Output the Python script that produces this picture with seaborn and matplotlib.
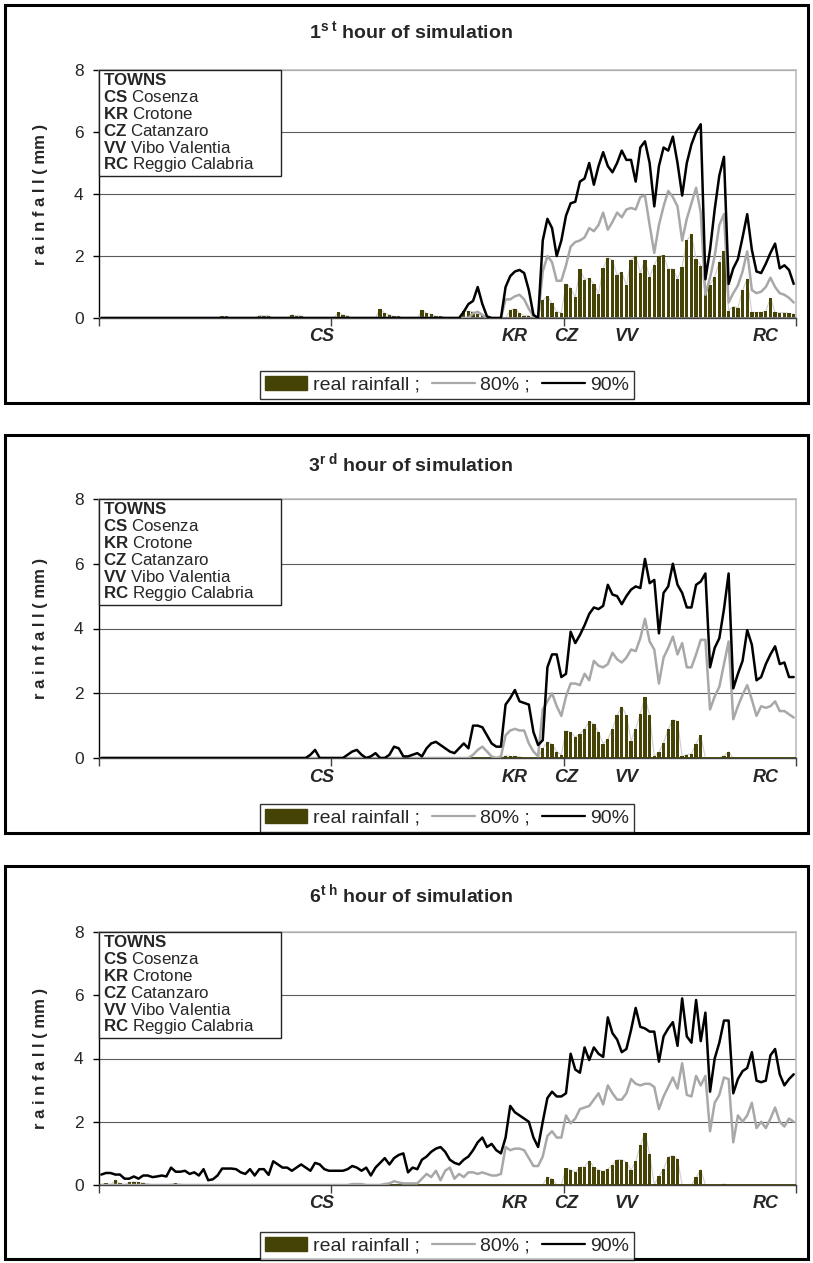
import matplotlib
matplotlib.use("Agg")
import matplotlib.pyplot as plt
import pandas as pd
import seaborn as sns
from matplotlib.patches import Rectangle, Patch
from matplotlib.lines import Line2D
from matplotlib.transforms import offset_copy

# ---------------- data ----------------
STATION = list(range(150))

P1_REAL = [
    0, 0, 0, 0, 0, 0, 0, 0, 0, 0,
    0, 0, 0, 0, 0, 0, 0, 0, 0, 0,
    0, 0, 0, 0, 0, 0, 0.05, 0.05, 0, 0,
    0, 0, 0, 0, 0.08, 0.07, 0.07, 0, 0, 0,
    0, 0.1, 0.07, 0.07, 0, 0, 0, 0, 0, 0,
    0, 0.18, 0.1, 0.07, 0, 0, 0, 0, 0, 0,
    0.3, 0.15, 0.1, 0.05, 0.05, 0, 0, 0, 0, 0.25,
    0.15, 0.12, 0.05, 0.05, 0.03, 0, 0, 0, 0.22, 0.22,
    0.2, 0.12, 0.08, 0, 0, 0, 0, 0, 0.25, 0.3,
    0.15, 0.08, 0.08, 0, 0, 0.58, 0.7, 0.47, 0.2, 0.17,
    1.1, 0.96, 0.67, 1.58, 1.24, 1.28, 1.1, 0.78, 1.6, 1.94,
    1.86, 1.39, 1.48, 1.05, 1.88, 2.0, 1.45, 1.86, 1.32, 1.72,
    2.0, 2.02, 1.58, 1.58, 1.26, 1.66, 2.5, 2.7, 1.9, 1.69,
    0.78, 1.08, 1.33, 1.8, 2.15, 0.24, 0.37, 0.33, 0.9, 1.26,
    0.18, 0.18, 0.18, 0.22, 0.65, 0.18, 0.17, 0.17, 0.15, 0.12,
]
P1_80 = [
    0, 0, 0, 0, 0, 0, 0, 0, 0, 0,
    0, 0, 0, 0, 0, 0, 0, 0, 0, 0,
    0, 0, 0, 0, 0, 0, 0, 0, 0, 0,
    0, 0, 0, 0, 0, 0, 0, 0, 0, 0,
    0, 0, 0, 0, 0, 0, 0, 0, 0, 0,
    0, 0, 0, 0, 0, 0, 0, 0, 0, 0,
    0, 0, 0, 0, 0, 0, 0, 0, 0, 0,
    0, 0, 0, 0, 0, 0, 0, 0, 0, 0,
    0.15, 0.2, 0.1, 0, 0, 0, 0, 0.6, 0.6, 0.7,
    0.75, 0.6, 0.3, 0.05, 0, 1.5, 2.0, 1.8, 1.2, 1.2,
    1.7, 2.3, 2.45, 2.5, 2.6, 2.9, 2.8, 3.0, 3.4, 2.85,
    3.1, 3.4, 3.25, 3.5, 3.55, 3.5, 3.9, 3.95, 3.0, 2.1,
    3.0, 3.6, 4.1, 3.9, 3.6, 2.5, 3.2, 3.7, 4.2, 3.4,
    0.75, 1.3, 2.0, 3.0, 3.35, 0.5, 0.8, 1.05, 1.5, 2.15,
    0.9, 0.8, 0.85, 1.0, 1.3, 1.0, 0.8, 0.75, 0.65, 0.5,
]
P1_90 = [
    0, 0, 0, 0, 0, 0, 0, 0, 0, 0,
    0, 0, 0, 0, 0, 0, 0, 0, 0, 0,
    0, 0, 0, 0, 0, 0, 0, 0, 0, 0,
    0, 0, 0, 0, 0, 0, 0, 0, 0, 0,
    0, 0, 0, 0, 0, 0, 0, 0, 0, 0,
    0, 0, 0, 0, 0, 0, 0, 0, 0, 0,
    0, 0, 0, 0, 0, 0, 0, 0, 0, 0,
    0, 0, 0, 0, 0, 0, 0, 0, 0.2, 0.45,
    0.55, 1.0, 0.45, 0.05, 0, 0, 0, 1.0, 1.35, 1.5,
    1.55, 1.45, 0.9, 0.1, 0, 2.5, 3.2, 2.9, 2.0, 2.5,
    3.3, 3.7, 3.75, 4.4, 4.5, 5.0, 4.3, 4.9, 5.35, 4.9,
    4.7, 5.0, 5.4, 5.1, 5.1, 4.4, 5.5, 5.7, 5.0, 3.6,
    4.9, 5.5, 5.4, 5.85, 5.0, 3.95, 5.0, 5.6, 6.0, 6.25,
    1.25, 2.2, 3.5, 4.6, 5.2, 1.1, 1.6, 1.9, 2.6, 3.35,
    2.2, 1.5, 1.45, 1.75, 2.1, 2.4, 1.6, 1.7, 1.55, 1.1,
]

P2_REAL = [
    0, 0, 0, 0, 0, 0, 0, 0, 0, 0,
    0, 0, 0, 0, 0, 0, 0, 0, 0, 0,
    0, 0, 0, 0, 0, 0, 0, 0, 0, 0,
    0, 0, 0, 0, 0, 0, 0, 0, 0, 0,
    0, 0, 0, 0, 0, 0, 0, 0, 0, 0,
    0, 0, 0, 0, 0, 0, 0, 0, 0, 0,
    0, 0, 0, 0, 0, 0, 0, 0, 0, 0,
    0, 0, 0, 0, 0, 0, 0, 0, 0, 0,
    0, 0, 0, 0, 0, 0, 0, 0.07, 0.05, 0.05,
    0.04, 0, 0, 0, 0, 0.3, 0.5, 0.42, 0.2, 0.1,
    0.84, 0.8, 0.65, 0.74, 0.89, 1.13, 1.05, 0.8, 0.44, 0.58,
    0.9, 1.32, 1.58, 1.32, 0.53, 0.9, 1.37, 1.87, 1.32, 0.05,
    0.18, 0.47, 0.89, 1.18, 1.13, 0.05, 0.1, 0.13, 0.44, 0.7,
    0, 0, 0, 0, 0.07, 0.19, 0, 0, 0, 0,
    0, 0, 0, 0, 0, 0, 0, 0, 0, 0,
]
P2_80 = [
    0, 0, 0, 0, 0, 0, 0, 0, 0, 0,
    0, 0, 0, 0, 0, 0, 0, 0, 0, 0,
    0, 0, 0, 0, 0, 0, 0, 0, 0, 0,
    0, 0, 0, 0, 0, 0, 0, 0, 0, 0,
    0, 0, 0, 0, 0, 0, 0, 0, 0, 0,
    0, 0, 0, 0, 0, 0, 0, 0, 0, 0,
    0, 0, 0, 0, 0, 0, 0, 0, 0, 0,
    0, 0, 0, 0, 0, 0, 0, 0, 0, 0,
    0.1, 0.25, 0.35, 0.2, 0.05, 0, 0.05, 0.7, 0.85, 0.9,
    0.85, 0.85, 0.45, 0.2, 0.05, 1.5, 1.75, 2.0, 1.6, 1.3,
    1.9, 2.3, 2.3, 2.25, 2.6, 2.4, 3.0, 2.85, 2.8, 2.9,
    3.25, 3.05, 2.95, 3.1, 3.35, 3.3, 3.7, 4.3, 3.6, 3.35,
    2.3, 3.1, 3.4, 3.75, 3.2, 3.55, 2.8, 2.8, 3.2, 3.65,
    3.65, 1.5, 1.9, 2.2, 2.9, 3.6, 1.2, 1.6, 1.95, 2.25,
    1.8, 1.3, 1.6, 1.55, 1.6, 1.75, 1.45, 1.45, 1.35, 1.25,
]
P2_90 = [
    0, 0, 0, 0, 0, 0, 0, 0, 0, 0,
    0, 0, 0, 0, 0, 0, 0, 0, 0, 0,
    0, 0, 0, 0, 0, 0, 0, 0, 0, 0,
    0, 0, 0, 0, 0, 0, 0, 0, 0, 0,
    0, 0, 0, 0, 0, 0.1, 0.25, 0, 0, 0,
    0, 0, 0, 0.1, 0.2, 0.25, 0.1, 0, 0.05, 0.15,
    0, 0, 0.1, 0.35, 0.3, 0.05, 0.05, 0.1, 0.15, 0.05,
    0.3, 0.45, 0.5, 0.4, 0.3, 0.2, 0.15, 0.3, 0.45, 0.3,
    1.0, 1.0, 0.95, 0.7, 0.45, 0.35, 0.35, 1.65, 1.85, 2.1,
    1.75, 1.7, 1.65, 0.8, 0.4, 0.55, 2.8, 3.2, 3.2, 2.5,
    2.6, 3.9, 3.55, 3.8, 4.1, 4.45, 4.65, 4.6, 4.7, 5.35,
    5.05, 5.0, 4.75, 5.0, 5.2, 5.3, 5.25, 6.15, 5.4, 5.5,
    3.85, 5.1, 5.3, 6.0, 5.35, 5.1, 4.65, 4.65, 5.35, 5.45,
    5.7, 2.8, 3.4, 3.7, 4.6, 5.7, 2.15, 2.6, 3.0, 3.95,
    3.5, 2.4, 2.5, 2.9, 3.2, 3.45, 2.9, 2.95, 2.5, 2.5,
]

P3_REAL = [
    0.02, 0.05, 0, 0.15, 0.05, 0, 0.08, 0.1, 0.08, 0.06,
    0.04, 0, 0, 0, 0, 0.03, 0.05, 0.03, 0, 0,
    0.02, 0, 0, 0, 0, 0, 0, 0, 0, 0,
    0, 0, 0, 0, 0, 0, 0, 0, 0, 0,
    0, 0, 0, 0, 0, 0, 0, 0, 0, 0,
    0, 0, 0, 0, 0, 0, 0, 0, 0, 0,
    0, 0, 0, 0, 0, 0, 0, 0, 0, 0,
    0, 0, 0, 0, 0, 0, 0, 0, 0, 0,
    0, 0, 0, 0, 0, 0, 0, 0, 0, 0,
    0, 0, 0, 0, 0, 0, 0.25, 0.2, 0, 0,
    0.53, 0.48, 0.4, 0.56, 0.58, 0.77, 0.56, 0.48, 0.43, 0.5,
    0.64, 0.8, 0.8, 0.72, 0.47, 0.75, 1.25, 1.66, 0.98, 0.02,
    0.27, 0.5, 0.88, 0.93, 0.82, 0, 0, 0, 0.24, 0.48,
    0, 0, 0, 0, 0.03, 0, 0, 0, 0, 0,
    0, 0, 0, 0, 0, 0, 0, 0, 0, 0,
]
P3_80 = [
    0, 0, 0, 0, 0, 0, 0, 0, 0, 0,
    0, 0, 0, 0, 0, 0, 0, 0, 0, 0,
    0, 0, 0, 0, 0, 0, 0, 0, 0, 0,
    0, 0, 0, 0, 0, 0, 0, 0, 0, 0,
    0, 0, 0, 0, 0, 0, 0, 0, 0, 0,
    0, 0, 0, 0, 0.03, 0.03, 0.03, 0, 0, 0,
    0, 0.03, 0.05, 0.12, 0.08, 0.05, 0.05, 0.05, 0.05, 0.2,
    0.35, 0.25, 0.45, 0.15, 0.45, 0.55, 0.2, 0.35, 0.25, 0.4,
    0.4, 0.35, 0.4, 0.35, 0.3, 0.3, 0.35, 1.2, 1.1, 1.15,
    1.15, 1.1, 0.85, 0.6, 0.6, 0.9, 1.55, 1.7, 1.5, 1.5,
    2.2, 1.95, 2.1, 2.4, 2.45, 2.5, 2.7, 2.9, 2.55, 3.15,
    2.9, 2.7, 2.7, 2.9, 3.35, 3.2, 3.15, 3.2, 3.2, 3.1,
    2.4, 2.8, 3.1, 3.4, 3.05, 3.85, 2.85, 2.8, 3.45, 3.15,
    3.45, 1.7, 2.6, 2.85, 3.4, 3.35, 1.35, 2.2, 2.0, 2.2,
    2.6, 1.8, 2.0, 1.8, 2.1, 2.45, 2.0, 1.85, 2.1, 2.0,
]
P3_90 = [
    0.33, 0.38, 0.38, 0.33, 0.33, 0.2, 0.2, 0.27, 0.2, 0.3,
    0.3, 0.25, 0.27, 0.3, 0.27, 0.55, 0.42, 0.42, 0.45, 0.35,
    0.4, 0.3, 0.5, 0.15, 0.18, 0.3, 0.52, 0.52, 0.52, 0.5,
    0.4, 0.35, 0.5, 0.3, 0.5, 0.5, 0.32, 0.75, 0.65, 0.55,
    0.55, 0.45, 0.55, 0.65, 0.55, 0.45, 0.7, 0.65, 0.5, 0.45,
    0.45, 0.45, 0.45, 0.5, 0.6, 0.55, 0.45, 0.55, 0.3, 0.55,
    0.7, 0.85, 0.65, 0.85, 0.95, 1.0, 0.4, 0.55, 0.5, 0.8,
    0.9, 1.05, 1.15, 1.2, 1.05, 0.8, 0.7, 0.65, 0.8, 0.9,
    1.1, 1.35, 1.5, 1.2, 1.3, 1.1, 1.0, 1.5, 2.5, 2.3,
    2.2, 2.1, 2.0, 1.5, 1.2, 2.0, 2.75, 2.95, 2.8, 2.8,
    2.9, 4.15, 3.65, 3.55, 4.35, 3.95, 4.35, 4.15, 4.05, 5.3,
    4.8, 4.6, 4.2, 4.3, 4.9, 5.6, 5.0, 4.95, 4.85, 4.85,
    3.9, 4.7, 4.95, 5.15, 4.4, 5.9, 4.7, 4.5, 5.85, 4.55,
    5.45, 2.95, 4.0, 4.5, 5.2, 5.2, 2.9, 3.35, 3.6, 3.7,
    4.2, 3.3, 3.25, 3.3, 4.1, 4.3, 3.5, 3.15, 3.35, 3.5,
]

TITLE_NUM = ["1", "3", "6"]
TITLE_SUP = ["s\\ t", "r\\ d", "t\\ h"]
TOWN_CODES = ["CS", "KR", "CZ", "VV", "RC"]
TOWN_NAMES = ["Cosenza", "Crotone", "Catanzaro", "Vibo Valentia", "Reggio Calabria"]
TOWN_POS = [47.5, 89, 100, 113, 143]
YTICKS = [0, 2, 4, 6, 8]
LEGEND_LABELS = ["real rainfall ;", "80% ;", "90%"]

# ---------------- style ----------------
sns.set_style("white")
plt.rcParams["font.family"] = ["Liberation Sans", "DejaVu Sans"]
plt.rcParams["mathtext.fontset"] = "custom"
plt.rcParams["mathtext.rm"] = "Liberation Sans"
plt.rcParams["mathtext.bf"] = "Liberation Sans:bold"
plt.rcParams["mathtext.it"] = "Liberation Sans:italic"

OLIVE = "#454306"
GRAY80 = "#a8a8a8"
BLACK90 = "#000000"

W, H = 813, 1263
fig = plt.figure(figsize=(W / 100, H / 100), dpi=100)

# layout (pixel rows): box_top, box_bottom, axes_top, axes_bottom, title_y, legend_y, baseline colour
LAYOUT = [
    (5, 403, 70, 318, 31, 385, "#7a7a7a"),
    (435, 833, 499, 758, 463, 818, OLIVE),
    (866, 1259, 932, 1185, 894, 1246, OLIVE),
]
SERIES = [
    (P1_REAL, P1_80, P1_90),
    (P2_REAL, P2_80, P2_90),
    (P3_REAL, P3_80, P3_90),
]

AX_L, AX_R = 99, 796

for k, ((btop, bbot, atop, abot, ty, ly, basecol), (real, p80, p90)) in enumerate(zip(LAYOUT, SERIES)):
    # panel frame
    fig.patches.append(Rectangle((5 / W, 1 - bbot / H), 803 / W, (bbot - btop) / H,
                                 transform=fig.transFigure, fill=False,
                                 edgecolor="black", linewidth=2.2, zorder=0))
    ax_h = abot - atop
    ax = fig.add_axes([AX_L / W, 1 - abot / H, (AX_R - AX_L) / W, ax_h / H])
    df = pd.DataFrame({"station": STATION, "real": real, "p80": p80, "p90": p90})

    sns.lineplot(data=df, x="station", y="real", color="#cfcfcf", linewidth=0.8,
                 estimator=None, ax=ax, zorder=2)
    sns.barplot(data=df, x="station", y="real", native_scale=True, color=OLIVE,
                saturation=1, width=0.72, errorbar=None, linewidth=0, ax=ax, zorder=3)
    sns.lineplot(data=df, x="station", y="p80", color=GRAY80, linewidth=1.8,
                 estimator=None, ax=ax, zorder=5)
    sns.lineplot(data=df, x="station", y="p90", color=BLACK90, linewidth=1.8,
                 estimator=None, ax=ax, zorder=6)
    ax.axhline(0, color=basecol, linewidth=1.3, zorder=4.5)

    ax.set_xlim(-0.5, 149.5)
    ax.set_ylim(0, 8)
    ax.set_xlabel("")
    ax.set_ylabel("")
    ax.set_yticks(YTICKS)
    ax.set_yticklabels([str(v) for v in YTICKS], fontsize=12.5)
    ax.set_xticks([-0.5, 49.5, 99.5, 149.5])
    ax.set_xticklabels([])
    ax.tick_params(axis="y", direction="out", length=4, width=1, color="black", pad=7, left=True)
    ax.tick_params(axis="x", direction="out", length=6, width=1, color="#404040", bottom=True)
    ax.grid(axis="y", color="#5a5a5a", linewidth=0.8)
    ax.set_axisbelow(True)
    for s in ["top", "right"]:
        ax.spines[s].set_color("#bdbdbd")
        ax.spines[s].set_linewidth(1.2)
    ax.spines["left"].set_color("black")
    ax.spines["bottom"].set_color("#404040")
    ax.spines["left"].set_linewidth(1.0)
    ax.spines["bottom"].set_linewidth(1.0)

    # towns box
    bw, bh = 182 / (AX_R - AX_L), 106 / ax_h
    ax.add_patch(Rectangle((0, 1 - bh), bw, bh, transform=ax.transAxes, facecolor="white",
                           edgecolor="#222222", linewidth=1.0, zorder=8, clip_on=False))
    lines = [r"$\mathbf{TOWNS}$"] + [rf"$\mathbf{{{c}}}$ {n}" for c, n in zip(TOWN_CODES, TOWN_NAMES)]
    for j, t in enumerate(lines):
        tr = offset_copy(ax.transAxes, fig=fig, x=4, y=-(10 + 17 * j), units="dots")
        ax.text(0, 1, t, transform=tr, fontsize=12.2, va="center", ha="left", zorder=9)

    # town labels under axis
    trx = offset_copy(ax.get_xaxis_transform(), fig=fig, y=-19, units="dots")
    for c, p in zip(TOWN_CODES, TOWN_POS):
        ax.text(p, 0, c, transform=trx, fontsize=13, fontweight="bold", fontstyle="italic",
                ha="center", va="center")

    # title
    fig.text(411 / W, 1 - ty / H, rf"$\mathbf{{{TITLE_NUM[k]}^{{{TITLE_SUP[k]}}}}}$ hour of simulation",
             fontsize=14, fontweight="bold", ha="center", va="center")
    # y label
    fig.text(41 / W, 1 - (atop + abot) / 2 / H, "r a i n f a l l ( mm )", rotation=90,
             fontsize=12, fontweight="bold", ha="center", va="center")

    # legend
    handles = [Patch(facecolor=OLIVE, edgecolor=OLIVE),
               Line2D([], [], color=GRAY80, linewidth=1.6),
               Line2D([], [], color=BLACK90, linewidth=1.6)]
    leg = fig.legend(handles, LEGEND_LABELS, loc="center", bbox_to_anchor=(447 / W, 1 - ly / H),
                     ncol=3, frameon=True, fancybox=False, edgecolor="black", fontsize=14,
                     handlelength=2.2, handletextpad=0.3, columnspacing=0.6, borderpad=0.25,
                     borderaxespad=0)
    leg.get_frame().set_linewidth(1.0)

fig.savefig("out.png", dpi=100)
